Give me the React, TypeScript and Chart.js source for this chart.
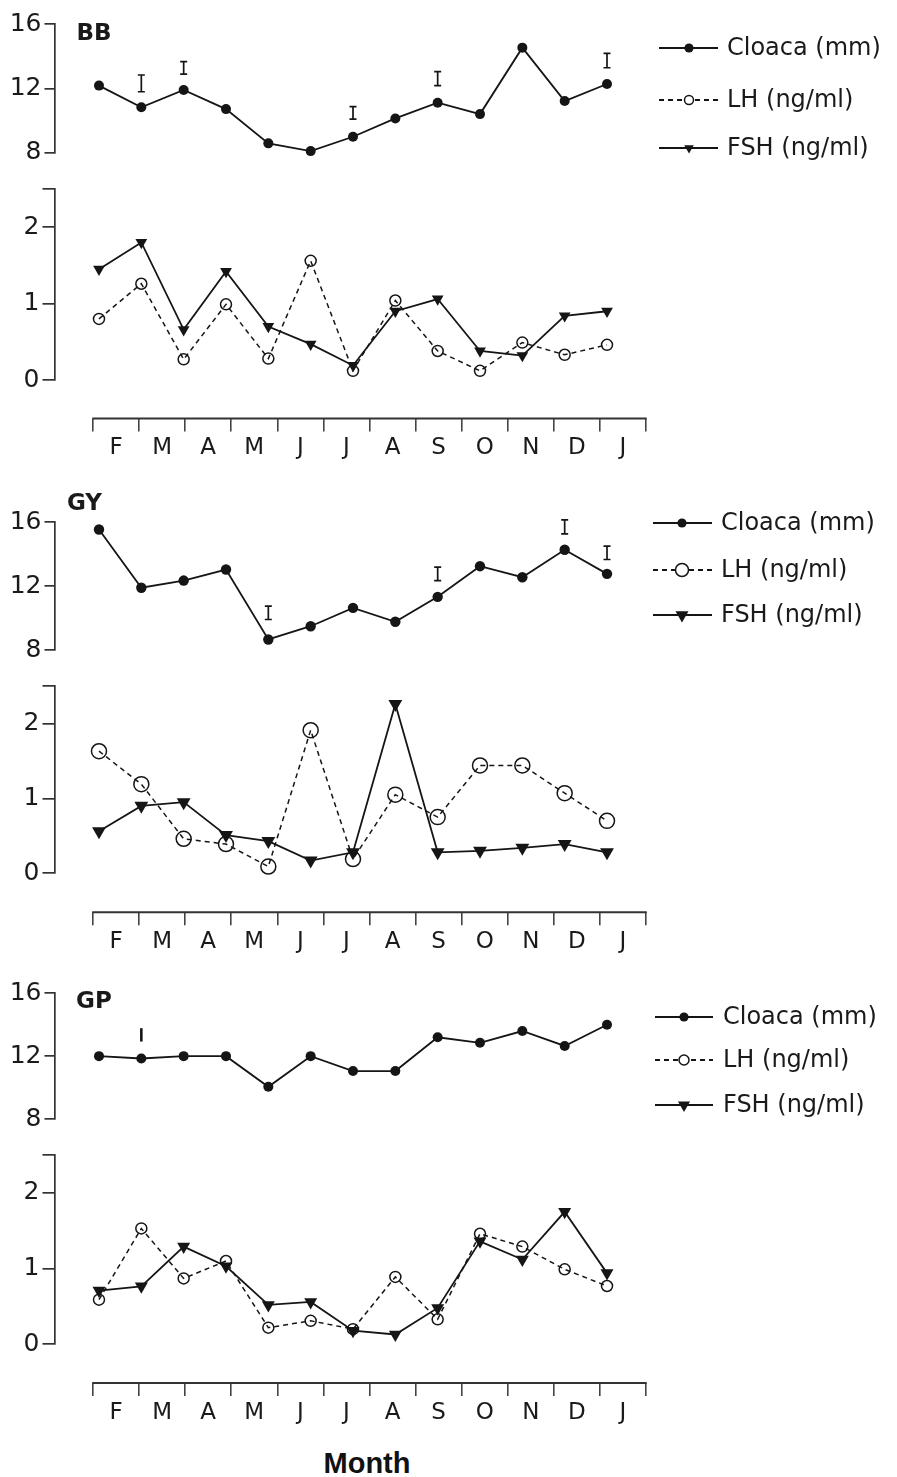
import React, { useEffect, useRef } from 'react';
import { Chart, registerables } from 'chart.js';

Chart.register(...registerables);

// ---------- DATA ----------
const months = ['F', 'M', 'A', 'M', 'J', 'J', 'A', 'S', 'O', 'N', 'D', 'J'];
const sampleIndex = [0, 1, 2, 3, 4, 5, 6, 7, 8, 9, 10, 11, 12];
const seriesNames = ['Cloaca (mm)', 'LH (ng/ml)', 'FSH (ng/ml)'];
const panelNames = ['BB', 'GY', 'GP'];
const cloacaTicks = [8, 12, 16];
const hormoneTicks = [0, 1, 2];

const bbCloaca = [12.17, 10.82, 11.9, 10.71, 8.58, 8.1, 8.99, 10.13, 11.11, 10.4, 14.53, 11.21, 12.27];
const bbLH = [0.8, 1.26, 0.27, 0.99, 0.28, 1.56, 0.12, 1.04, 0.38, 0.12, 0.49, 0.33, 0.46];
const bbFSH = [1.45, 1.8, 0.66, 1.42, 0.7, 0.47, 0.19, 0.9, 1.06, 0.38, 0.32, 0.84, 0.9];
// [sample index, low, high]
const bbErr = [[1, 11.79, 12.83], [2, 12.89, 13.66], [6, 10.09, 10.86], [8, 12.17, 13.04], [12, 13.28, 14.18]];

const gyCloaca = [15.55, 11.9, 12.35, 13.04, 8.66, 9.49, 10.64, 9.77, 11.33, 13.25, 12.56, 14.28, 12.77];
const gyLH = [1.63, 1.19, 0.46, 0.39, 0.09, 1.91, 0.19, 1.05, 0.75, 1.44, 1.44, 1.07, 0.7];
const gyFSH = [0.56, 0.9, 0.95, 0.51, 0.43, 0.17, 0.28, 2.26, 0.28, 0.3, 0.34, 0.39, 0.28];
const gyErr = [[4, 9.91, 10.75], [8, 12.35, 13.19], [11, 15.27, 16.15], [12, 13.67, 14.51]];

const gpCloaca = [12.0, 11.85, 12.0, 12.0, 10.05, 12.0, 11.05, 11.05, 13.2, 12.85, 13.6, 12.65, 14.0];
const gpLH = [0.59, 1.53, 0.87, 1.1, 0.22, 0.31, 0.2, 0.89, 0.33, 1.46, 1.29, 0.99, 0.77];
const gpFSH = [0.71, 0.765, 1.29, 1.03, 0.52, 0.56, 0.18, 0.13, 0.48, 1.36, 1.12, 1.75, 0.94];
const gpErr = [[1, 12.93, 13.78]];

// ---------- LAYOUT ----------
const W = 897;
const AXIS_X = 54.5;
const PLOT_RIGHT = 646;
const X_MIN = -1.051;
const X_MAX = 12.921;
const M_MIN = -0.835;
const M_MAX = 12;
const MONTH_AXIS_H = 60;
const INK = '#151515';
const AXIS_COLOR = '#333';

const panels = [
  {
    name: panelNames[0], cloaca: bbCloaca, lh: bbLH, fsh: bbFSH, err: bbErr, serif: true,
    top: { top: 0, plotTop: 24, plotBottom: 152.7 },
    bottom: { top: 171, plotTop: 182.9, plotBottom: 380, axisY: 418.5 },
    label: { x: 76.5, y: 34.5 },
    legendRows: [48, 100, 148], legend: { l1: 659, l2: 718, m: 689, t: 727 },
    cR: 5, lhR: 5.5, fshR: 6.8, lhLegR: 4.5, fshLegR: 5.5,
  },
  {
    name: panelNames[1], cloaca: gyCloaca, lh: gyLH, fsh: gyFSH, err: gyErr, serif: true,
    top: { top: 480, plotTop: 522.3, plotBottom: 650 },
    bottom: { top: 668, plotTop: 678.3, plotBottom: 873.3, axisY: 912.3 },
    label: { x: 67, y: 24 },
    legendRows: [43, 90, 135], legend: { l1: 653, l2: 712, m: 682, t: 721 },
    cR: 5.2, lhR: 7.5, fshR: 8, lhLegR: 6.5, fshLegR: 7.5,
  },
  {
    name: panelNames[2], cloaca: gpCloaca, lh: gpLH, fsh: gpFSH, err: gpErr, serif: false,
    top: { top: 955, plotTop: 993.3, plotBottom: 1119 },
    bottom: { top: 1137, plotTop: 1147.3, plotBottom: 1344.3, axisY: 1383 },
    label: { x: 76, y: 47.5 },
    legendRows: [62, 105, 150], legend: { l1: 655, l2: 713, m: 684, t: 723 },
    cR: 5, lhR: 5.5, fshR: 7.5, lhLegR: 5, fshLegR: 7,
  },
];

const toXY = (vals: number[]) => vals.map((v, i) => ({ x: sampleIndex[i], y: v }));

// ---------- PLUGINS ----------
const errBarPlugin = {
  id: 'errBars',
  afterDatasetsDraw(chart: any, _a: any, opts: any) {
    if (!opts || !opts.bars) return;
    const { ctx } = chart;
    const xs = chart.scales.x;
    const ys = chart.scales.y;
    ctx.save();
    ctx.strokeStyle = INK;
    ctx.lineWidth = opts.serif ? 1.7 : 2.6;
    for (const [i, lo, hi] of opts.bars) {
      const x = xs.getPixelForValue(i);
      const y1 = ys.getPixelForValue(hi);
      const y2 = ys.getPixelForValue(lo);
      ctx.beginPath();
      ctx.moveTo(x, y1);
      ctx.lineTo(x, y2);
      if (opts.serif) {
        ctx.moveTo(x - 3.5, y1);
        ctx.lineTo(x + 3.5, y1);
        ctx.moveTo(x - 3.5, y2);
        ctx.lineTo(x + 3.5, y2);
      }
      ctx.stroke();
    }
    ctx.restore();
  },
};

function drawMarker(ctx: CanvasRenderingContext2D, kind: string, x: number, y: number, r: number) {
  ctx.save();
  ctx.setLineDash([]);
  ctx.lineWidth = 1.5;
  ctx.strokeStyle = INK;
  if (kind === 'dot') {
    ctx.fillStyle = INK;
    ctx.beginPath();
    ctx.arc(x, y, r, 0, Math.PI * 2);
    ctx.fill();
  } else if (kind === 'ring') {
    ctx.fillStyle = '#fff';
    ctx.beginPath();
    ctx.arc(x, y, r, 0, Math.PI * 2);
    ctx.fill();
    ctx.stroke();
  } else {
    ctx.fillStyle = INK;
    ctx.beginPath();
    ctx.moveTo(x - r * 0.866, y - r * 0.5);
    ctx.lineTo(x + r * 0.866, y - r * 0.5);
    ctx.lineTo(x, y + r);
    ctx.closePath();
    ctx.fill();
  }
  ctx.restore();
}

const panelLegendPlugin = {
  id: 'panelLegend',
  afterDraw(chart: any, _a: any, opts: any) {
    if (!opts || !opts.rows) return;
    const { ctx } = chart;
    const kinds = ['dot', 'ring', 'tri'];
    const radii = [opts.cR, opts.lhR, opts.fshR];
    ctx.save();
    opts.rows.forEach((y: number, k: number) => {
      ctx.strokeStyle = INK;
      ctx.lineWidth = 2;
      ctx.setLineDash(k === 1 ? [5, 4] : []);
      ctx.beginPath();
      ctx.moveTo(opts.l1, y);
      ctx.lineTo(opts.l2, y);
      ctx.stroke();
      drawMarker(ctx, kinds[k], opts.m, y, radii[k]);
      ctx.setLineDash([]);
      ctx.fillStyle = '#1a1a1a';
      ctx.font = '24px "DejaVu Sans"';
      ctx.textAlign = 'left';
      ctx.textBaseline = 'middle';
      ctx.fillText(seriesNames[k], opts.t, y + 1);
    });
    // panel name
    ctx.font = 'bold 23px "DejaVu Sans"';
    ctx.fillStyle = '#1a1a1a';
    ctx.textAlign = 'left';
    ctx.textBaseline = 'middle';
    ctx.fillText(opts.name, opts.labelX, opts.labelY);
    ctx.restore();
  },
};

const monthLinePlugin = {
  id: 'monthLine',
  afterDraw(chart: any) {
    const s = chart.scales.month;
    if (!s) return;
    const { ctx } = chart;
    ctx.save();
    ctx.strokeStyle = AXIS_COLOR;
    ctx.lineWidth = 2;
    ctx.beginPath();
    ctx.moveTo(s.getPixelForValue(0) - 0.75, s.top);
    ctx.lineTo(s.getPixelForValue(12) + 0.75, s.top);
    ctx.stroke();
    ctx.restore();
  },
};

// ---------- CONFIG BUILDERS ----------
function yAxis(min: number, max: number, ticks: number[], cap: number | null, tickLen: number) {
  return {
    type: 'linear',
    position: 'left',
    min,
    max,
    afterBuildTicks: (s: any) => {
      const vals = cap !== null ? [...ticks, cap] : ticks;
      s.ticks = vals.map((v) => ({ value: v }));
    },
    afterFit: (s: any) => {
      s.width = AXIS_X;
    },
    ticks: {
      autoSkip: false,
      padding: 3,
      color: '#1a1a1a',
      font: { family: '"DejaVu Sans"', size: 25 },
      callback: (v: number) => (ticks.includes(v) ? String(v) : ''),
    },
    grid: { drawOnChartArea: false, drawTicks: true, tickLength: tickLen, color: AXIS_COLOR, lineWidth: 1.7 },
    border: { display: true, color: AXIS_COLOR, width: 1.7 },
  };
}

function topConfig(p: any) {
  const h = Math.ceil(p.top.plotBottom - p.top.top + 18);
  return {
    height: h,
    config: {
      type: 'line',
      data: {
        datasets: [
          {
            label: seriesNames[0],
            data: toXY(p.cloaca),
            borderColor: INK,
            borderWidth: 1.8,
            pointStyle: 'circle',
            pointRadius: p.cR,
            pointBackgroundColor: INK,
            pointBorderColor: INK,
            pointBorderWidth: 0,
            tension: 0,
            clip: false,
          },
        ],
      },
      options: {
        animation: false,
        responsive: false,
        events: [],
        layout: {
          padding: {
            left: 0,
            right: W - PLOT_RIGHT,
            top: p.top.plotTop - p.top.top,
            bottom: h - (p.top.plotBottom - p.top.top),
          },
        },
        plugins: {
          legend: { display: false },
          tooltip: { enabled: false },
          errBars: { bars: p.err, serif: p.serif },
          panelLegend: {
            rows: p.legendRows,
            ...p.legend,
            cR: 4.6,
            lhR: p.lhLegR,
            fshR: p.fshLegR,
            name: p.name,
            labelX: p.label.x,
            labelY: p.label.y,
          },
        },
        scales: {
          x: { type: 'linear', min: X_MIN, max: X_MAX, display: false },
          y: yAxis(8, 16, cloacaTicks, null, 10),
        },
      },
      plugins: [errBarPlugin, panelLegendPlugin],
    },
  };
}

function bottomConfig(p: any) {
  const b = p.bottom;
  const used = b.axisY - b.top + MONTH_AXIS_H;
  const h = Math.ceil(used);
  return {
    height: h,
    config: {
      type: 'line',
      data: {
        datasets: [
          {
            label: seriesNames[1],
            data: toXY(p.lh),
            borderColor: INK,
            borderWidth: 1.5,
            borderDash: [5, 4],
            pointStyle: 'circle',
            pointRadius: p.lhR,
            pointBackgroundColor: 'rgba(255,255,255,0)',
            pointBorderColor: INK,
            pointBorderWidth: 1.5,
            tension: 0,
            clip: false,
          },
          {
            label: seriesNames[2],
            data: toXY(p.fsh),
            borderColor: INK,
            borderWidth: 1.8,
            pointStyle: 'triangle',
            pointRotation: 180,
            pointRadius: p.fshR,
            pointBackgroundColor: INK,
            pointBorderColor: INK,
            pointBorderWidth: 0,
            tension: 0,
            clip: false,
          },
        ],
      },
      options: {
        animation: false,
        responsive: false,
        events: [],
        layout: {
          padding: { left: 0, right: W - PLOT_RIGHT, top: b.plotTop - b.top, bottom: h - used },
        },
        plugins: { legend: { display: false }, tooltip: { enabled: false } },
        scales: {
          x: {
            type: 'linear',
            position: 'bottom',
            weight: 0,
            min: X_MIN,
            max: X_MAX,
            grid: { display: false },
            border: { display: false },
            ticks: { display: false },
            afterFit: (s: any) => {
              s.height = b.axisY - b.plotBottom;
            },
          },
          month: {
            type: 'linear',
            position: 'bottom',
            weight: 1,
            min: M_MIN,
            max: M_MAX,
            afterBuildTicks: (s: any) => {
              const t: any[] = [];
              for (let k = 0; k <= 24; k++) t.push({ value: k / 2 });
              s.ticks = t;
            },
            afterFit: (s: any) => {
              s.height = MONTH_AXIS_H;
            },
            ticks: {
              autoSkip: false,
              maxRotation: 0,
              minRotation: 0,
              padding: 3,
              color: '#1a1a1a',
              font: { family: '"DejaVu Sans"', size: 23 },
              callback: (v: number) => (Number.isInteger(v) ? '' : months[Math.floor(v)]),
            },
            grid: {
              drawOnChartArea: false,
              drawTicks: true,
              tickLength: 13,
              lineWidth: 1.6,
              color: (c: any) => (c.tick && Number.isInteger(c.tick.value) ? '#444' : 'rgba(0,0,0,0)'),
              tickColor: (c: any) => (c.tick && Number.isInteger(c.tick.value) ? '#444' : 'rgba(0,0,0,0)'),
            },
            border: { display: false },
          },
          y: yAxis(0, 2.5, hormoneTicks, 2.5, 12),
        },
      },
      plugins: [monthLinePlugin],
    },
  };
}

function ChartCanvas({ top, height, config }: { top: number; height: number; config: any }) {
  const ref = useRef<HTMLCanvasElement | null>(null);
  useEffect(() => {
    if (!ref.current) return;
    const chart = new Chart(ref.current, config);
    return () => chart.destroy();
  }, []);
  return (
    <canvas
      ref={ref}
      width={W}
      height={height}
      style={{ position: 'absolute', left: 0, top, width: W, height, display: 'block' }}
    />
  );
}

export default function App() {
  Chart.defaults.font.family = '"DejaVu Sans"';
  return (
    <div style={{ position: 'absolute', left: 0, top: 0, width: W, height: 1477, background: '#fff', overflow: 'hidden' }}>
      {panels.map((p) => {
        const t = topConfig(p);
        const b = bottomConfig(p);
        return (
          <React.Fragment key={p.name}>
            <ChartCanvas top={p.top.top} height={t.height} config={t.config} />
            <ChartCanvas top={p.bottom.top} height={b.height} config={b.config} />
          </React.Fragment>
        );
      })}
      <div
        style={{
          position: 'absolute',
          left: 367,
          top: 1448.5,
          transform: 'translateX(-50%)',
          font: 'bold 29px "Liberation Sans", Arial, sans-serif',
          lineHeight: '29px',
          color: '#111',
          whiteSpace: 'nowrap',
        }}
      >
        Month
      </div>
    </div>
  );
}
